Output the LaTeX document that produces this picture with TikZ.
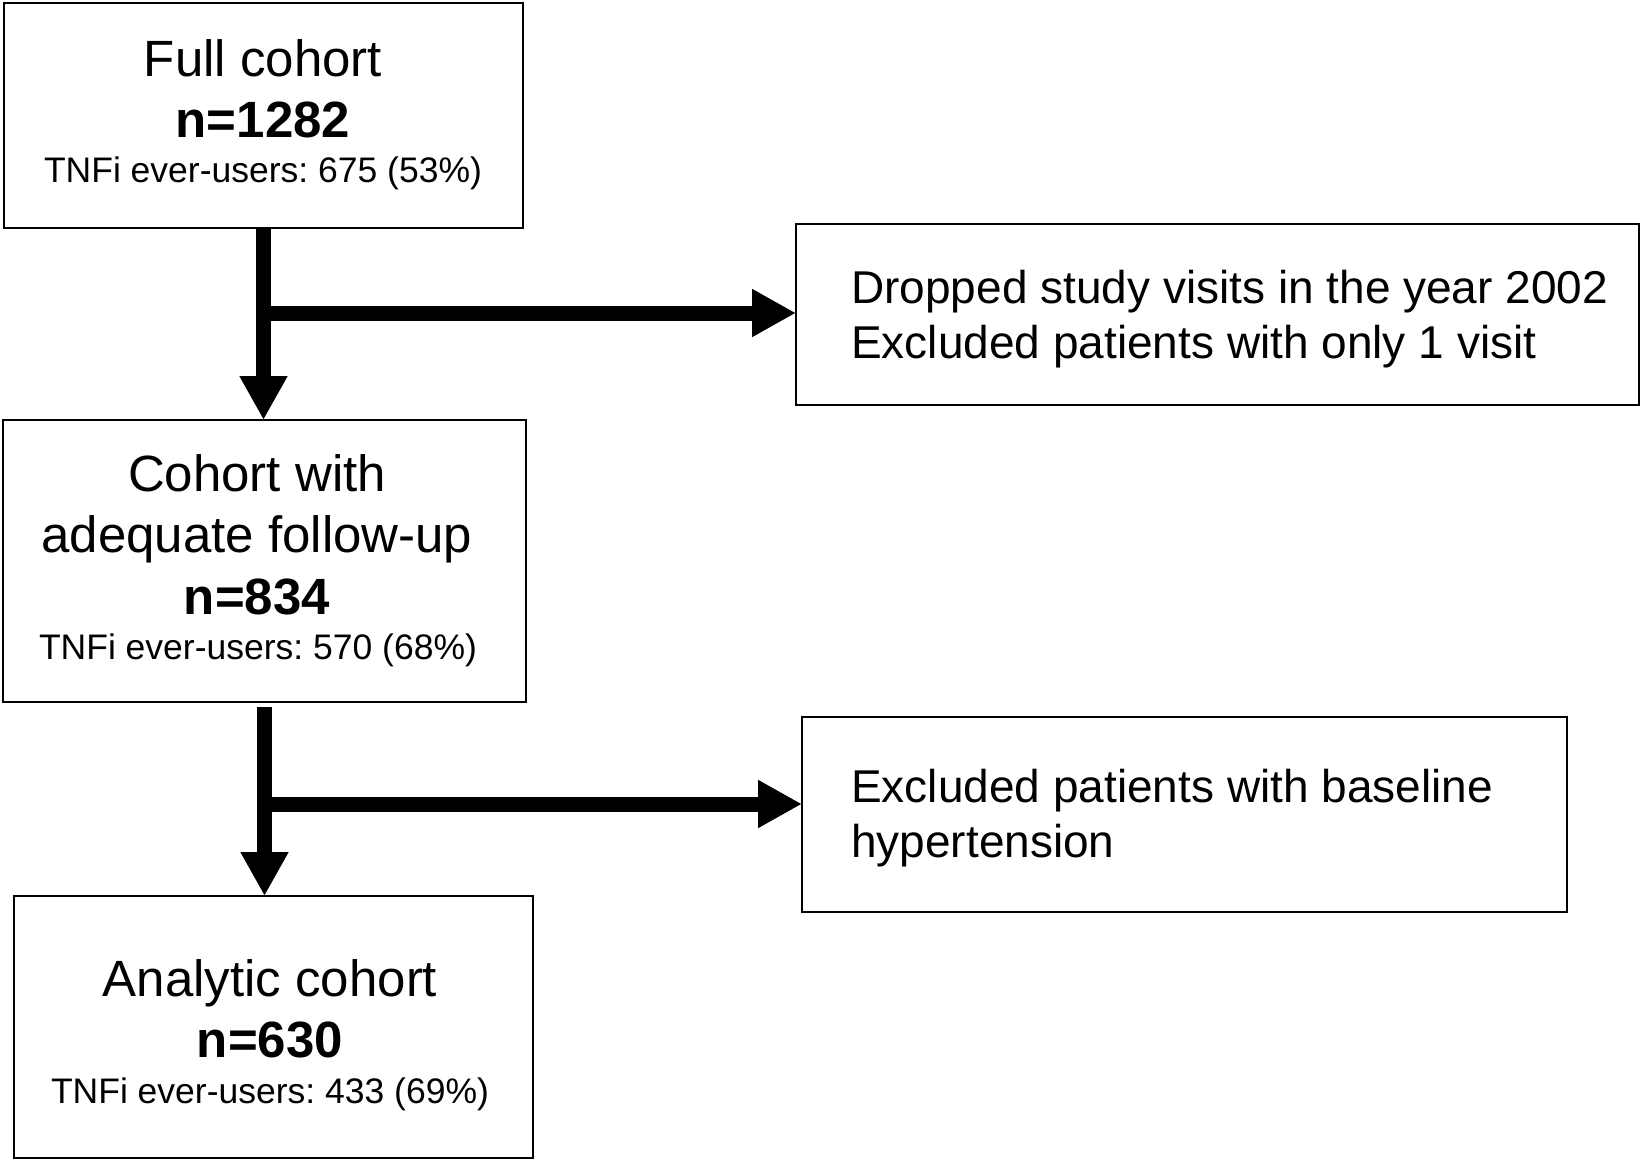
\documentclass[tikz,border=0pt]{standalone}
\usepackage{fontspec}
\setmainfont{Liberation Sans}
\usetikzlibrary{arrows.meta}
\frenchspacing
\begin{document}
\begin{tikzpicture}[x=1pt,y=-1pt,
  box/.style={draw,line width=1.8pt,inner sep=0pt,outer sep=0pt,anchor=north west},
  title/.style={anchor=base,inner sep=0pt,font=\fontsize{51}{60}\selectfont},
  num/.style={anchor=base,inner sep=0pt,font=\fontsize{51}{60}\selectfont\bfseries},
  sub/.style={anchor=base,inner sep=0pt,font=\fontsize{35.5}{42}\selectfont},
  side/.style={anchor=base west,inner sep=0pt,font=\fontsize{46}{54}\selectfont},
  fat/.style={line width=15pt,-{Triangle[length=44pt,width=45pt]}}]
\useasboundingbox (0,0) rectangle (1642,1161);
% boxes
\node[box,minimum width=519pt,minimum height=225pt] (b1) at (4,3) {};
\node[box,minimum width=843pt,minimum height=181pt] (drop) at (796,224) {};
\node[box,minimum width=523pt,minimum height=282pt] (b2) at (3,420) {};
\node[box,minimum width=765pt,minimum height=195pt] (hyp) at (802,717) {};
\node[box,minimum width=519pt,minimum height=262pt] (b3) at (14,896) {};
% texts box 1
\node[title] (t1a) at (263,77) {Full cohort};
\node[num] (t1b) at (263,138) {n=1282};
\node[sub] (t1c) at (263,183) {TNFi ever-users: 675 (53\%)};
% texts box 2
\node[title] (t2a) at (257,491) {Cohort with};
\node[title] (t2b) at (257,552) {adequate follow-up};
\node[num] (t2c) at (257,614) {n=834};
\node[sub] (t2d) at (258,659) {TNFi ever-users: 570 (68\%)};
% texts box 3
\node[title] (t3a) at (270,996) {Analytic cohort};
\node[num] (t3b) at (270,1057) {n=630};
\node[sub] (t3c) at (270,1103) {TNFi ever-users: 433 (69\%)};
% side texts
\node[side] (d1) at (851,303) {Dropped study visits in the year 2002};
\node[side] (d2) at (851,358) {Excluded patients with only 1 visit};
\node[side] (h1) at (851,802) {Excluded patients with baseline};
\node[side] (h2) at (851,857) {hypertension};
% connectors
\coordinate (s1) at (263.5,228);
\coordinate (j1) at (263.5,313);
\coordinate (s2) at (264.5,707);
\coordinate (j2) at (264.5,804);
\draw[fat] (s1) -- (s1 |- b2.north);
\draw[fat] (j1) -- (j1 -| drop.west);
\draw[fat] (s2) -- (s2 |- b3.north);
\draw[fat] (j2) -- (j2 -| hyp.west);
\end{tikzpicture}
\end{document}
